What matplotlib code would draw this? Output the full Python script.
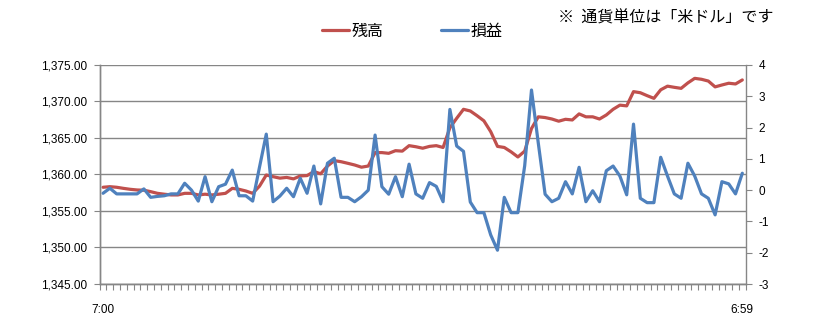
import matplotlib
matplotlib.use("Agg")
import matplotlib.pyplot as plt
import numpy as np
from matplotlib.ticker import FuncFormatter, MultipleLocator, FixedLocator

plt.rcParams['font.family'] = ['Liberation Sans', 'Noto Sans CJK JP', 'DejaVu Sans']
plt.rcParams['axes.unicode_minus'] = False

# 残高 (left axis)
balance = [1358.25, 1358.33, 1358.25, 1358.10, 1357.97, 1357.88, 1357.85, 1357.65, 1357.42, 1357.30,
           1357.20, 1357.20, 1357.42, 1357.42, 1357.20, 1357.30, 1357.20, 1357.30, 1357.42, 1358.10,
           1357.97, 1357.74, 1357.42, 1358.40, 1359.93, 1359.70, 1359.50, 1359.60, 1359.40, 1359.80,
           1359.85, 1360.40, 1360.10, 1361.16, 1361.90, 1361.75, 1361.53, 1361.30, 1361.00, 1361.16,
           1363.00, 1363.00, 1362.90, 1363.26, 1363.20, 1363.95, 1363.80, 1363.60, 1363.85, 1363.95,
           1363.70, 1366.40, 1367.70, 1368.93, 1368.70, 1368.05, 1367.35, 1365.87, 1363.85, 1363.70,
           1363.10, 1362.40, 1363.20, 1366.30, 1367.90, 1367.80, 1367.60, 1367.30, 1367.56, 1367.47,
           1368.30, 1367.90, 1367.90, 1367.60, 1368.15, 1368.93, 1369.50, 1369.40, 1371.35, 1371.20,
           1370.80, 1370.43, 1371.60, 1372.10, 1371.94, 1371.80, 1372.55, 1373.17, 1373.04, 1372.80,
           1372.00, 1372.26, 1372.50, 1372.40, 1372.95]

# 損益 (right axis)
profit = [-0.10, 0.06, -0.12, -0.12, -0.12, -0.12, 0.04, -0.23, -0.20, -0.18,
          -0.12, -0.12, 0.22, 0.00, -0.35, 0.43, -0.37, 0.11, 0.19, 0.64,
          -0.18, -0.18, -0.35, 0.73, 1.79, -0.37, -0.19, 0.06, -0.21, 0.38,
          -0.10, 0.77, -0.44, 0.86, 1.02, -0.23, -0.23, -0.37, -0.21, 0.00,
          1.76, 0.11, -0.13, 0.43, -0.21, 0.83, -0.12, -0.26, 0.24, 0.12,
          -0.37, 2.58, 1.41, 1.24, -0.38, -0.72, -0.72, -1.43, -1.92, -0.23,
          -0.72, -0.72, 0.78, 3.20, 1.50, -0.13, -0.37, -0.26, 0.27, -0.12,
          0.73, -0.37, -0.02, -0.37, 0.62, 0.77, 0.45, -0.15, 2.11, -0.26,
          -0.40, -0.40, 1.05, 0.45, -0.12, -0.26, 0.86, 0.45, -0.12, -0.26,
          -0.79, 0.27, 0.20, -0.12, 0.54]

x_labels = ["7:00", "6:59"]

red = '#C0504D'
blue = '#4F81BD'
grid_c = '#868686'

x = np.arange(len(balance))

fig = plt.figure(figsize=(8.25, 3.17), dpi=100)
ax = fig.add_axes([0.1208, 0.1041, 0.7831, 0.6909])
ax2 = ax.twinx()

l1, = ax.plot(x, balance, color=red, lw=2.3, solid_capstyle='round', solid_joinstyle='round', label='残高')
l2, = ax2.plot(x, profit, color=blue, lw=2.3, solid_capstyle='round', solid_joinstyle='round', label='損益')

ax.set_xlim(-0.5, len(balance) - 0.5)
ax.set_ylim(1345, 1375)
ax2.set_ylim(-3, 4)

ax.yaxis.set_major_locator(MultipleLocator(5))
ax.yaxis.set_major_formatter(FuncFormatter(lambda v, p: f'{v:,.2f}'))
ax2.yaxis.set_major_locator(MultipleLocator(1))
ax2.yaxis.set_major_formatter(FuncFormatter(lambda v, p: f'{int(round(v))}'))

ax.set_xticks([0, len(balance) - 1])
ax.set_xticklabels(x_labels)
ax.xaxis.set_minor_locator(FixedLocator(np.arange(len(balance) + 1) - 0.5))
ax.tick_params(axis='x', which='major', length=0, pad=14.5, labelsize=8.5, colors='black')
ax.tick_params(axis='x', which='minor', length=4, width=0.8, color=grid_c, direction='out')
ax.tick_params(axis='y', length=4, width=0.8, color=grid_c, pad=5, labelsize=8.5, labelcolor='black')
ax2.tick_params(axis='y', length=4, width=0.8, color=grid_c, pad=5, labelsize=8.5, labelcolor='black')

ax.grid(axis='y', color=grid_c, lw=1.0)
ax.set_axisbelow(True)

for a in (ax, ax2):
    a.spines['top'].set_visible(False)
    for s in ('left', 'right', 'bottom'):
        a.spines[s].set_color(grid_c)
        a.spines[s].set_linewidth(1.0)
ax.spines['right'].set_visible(False)

fig.legend(handles=[l1, l2], loc='center', bbox_to_anchor=(0.4994, 0.902), ncol=2, frameon=False,
           prop={'family': ['Noto Sans CJK JP'], 'size': 11.5}, handlelength=1.7, handletextpad=0.15,
           columnspacing=3.6)

fig.text(0.676, 0.943, '※  通貨単位は「米ドル」です', family=['Noto Sans CJK JP', 'DejaVu Sans'],
         fontsize=11.5, ha='left', va='center')

fig.savefig('out.png', dpi=100)
